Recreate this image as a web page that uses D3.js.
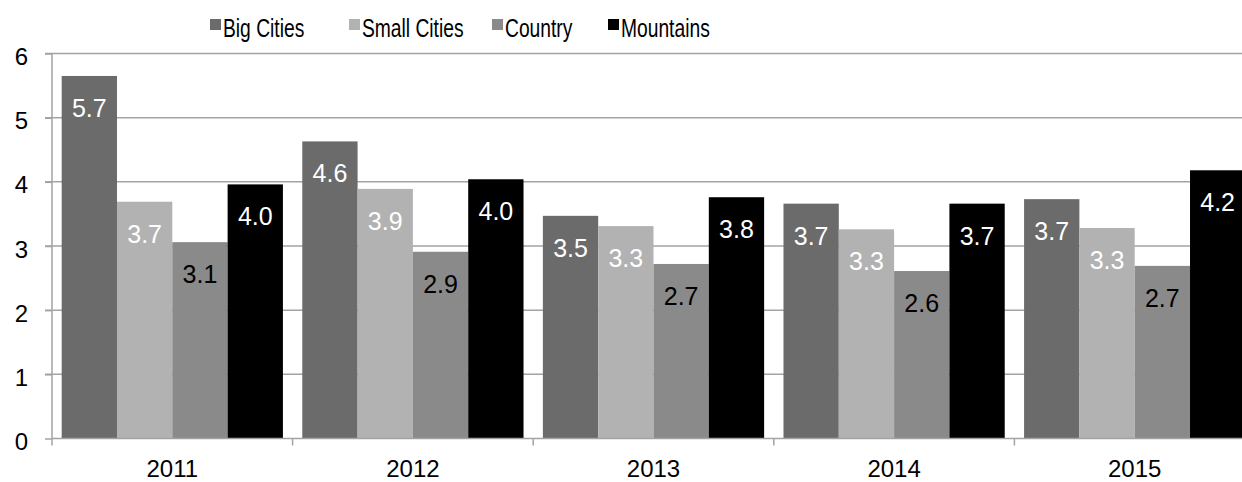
<!DOCTYPE html>
<html>
<head>
<meta charset="utf-8">
<script src="https://cdnjs.cloudflare.com/ajax/libs/d3/7.8.5/d3.min.js"></script>
<style>
  html, body { margin: 0; padding: 0; background: #fff; }
  svg { display: block; }
  text { font-family: "Liberation Sans", Arial, sans-serif; }
</style>
</head>
<body>
<svg id="chart" width="1242" height="482"></svg>
<script>
// Yearly values per region
const years = ["2011", "2012", "2013", "2014", "2015"];
const seriesNames = ["Big Cities", "Small Cities", "Country", "Mountains"];
const bigCities   = [5.65, 4.63, 3.47, 3.66, 3.73];
const smallCities = [3.69, 3.89, 3.31, 3.26, 3.28];
const country     = [3.06, 2.91, 2.72, 2.61, 2.69];
const mountains   = [3.96, 4.04, 3.76, 3.66, 4.18];
const yTicks = [0, 1, 2, 3, 4, 5, 6];

const seriesValues = [bigCities, smallCities, country, mountains];
const fills = ["#6b6b6b", "#b2b2b2", "#8a8a8a", "#000000"];
const labelColors = ["#ffffff", "#ffffff", "#000000", "#ffffff"];

const svg = d3.select("#chart");
const plotLeft = 52, plotTop = 53.5, plotBottom = 438.5;
const step = 240.6;
const plotRight = plotLeft + step * years.length;

const x = d3.scaleBand().domain(years).range([plotLeft, plotRight]).paddingInner(0).paddingOuter(0);
const xi = d3.scaleBand().domain(seriesNames).range([0, x.bandwidth()]).paddingInner(0).paddingOuter(0.175);
const y = d3.scaleLinear().domain([0, 6]).range([plotBottom, plotTop]);

const gridColor = "#a3a3a3";

// horizontal gridlines with short ticks on the left
svg.append("g").selectAll("line").data(yTicks.filter(t => t > 0)).join("line")
  .attr("x1", plotLeft - 7).attr("x2", plotRight)
  .attr("y1", d => y(d)).attr("y2", d => y(d))
  .attr("stroke", gridColor).attr("stroke-width", 1.5);

// bars
const rows = years.map((yr, i) => ({ year: yr, vals: seriesValues.map((s, k) => ({ k, name: seriesNames[k], v: s[i] })) }));
const groups = svg.append("g").selectAll("g").data(rows).join("g")
  .attr("transform", d => `translate(${x(d.year)},0)`);

groups.selectAll("rect").data(d => d.vals).join("rect")
  .attr("x", d => xi(d.name))
  .attr("width", xi.bandwidth())
  .attr("y", d => y(d.v))
  .attr("height", d => y(0) - y(d.v))
  .attr("fill", d => fills[d.k]);

const fmt = d3.format(".1f");
groups.selectAll("text").data(d => d.vals).join("text")
  .attr("x", d => xi(d.name) + xi.bandwidth() / 2)
  .attr("y", d => y(d.v) + 41)
  .attr("text-anchor", "middle")
  .attr("font-size", 25)
  .attr("fill", d => labelColors[d.k])
  .text(d => fmt(d.v));

// axes
const yAxis = svg.append("g").attr("transform", `translate(${plotLeft},0)`)
  .call(d3.axisLeft(y).tickValues(yTicks).tickSize(7).tickPadding(17).tickFormat(d3.format("d")));
yAxis.select(".domain").attr("stroke", gridColor).attr("stroke-width", 1.5).attr("d", `M0,${plotTop}V${plotBottom + 7}`);
yAxis.selectAll(".tick line").attr("stroke", gridColor).attr("stroke-width", 1.5);
yAxis.selectAll(".tick text").attr("font-size", 24).attr("fill", "#000")
  .attr("font-family", "'Liberation Sans', Arial, sans-serif").attr("dy", "0.46em");

const xAxis = svg.append("g").attr("transform", `translate(0,${plotBottom})`)
  .call(d3.axisBottom(x).tickSize(0).tickPadding(0));
xAxis.select(".domain").attr("stroke", gridColor).attr("stroke-width", 1.5).attr("d", `M${plotLeft},0H${plotRight}`);
xAxis.selectAll(".tick text").attr("font-size", 24).attr("fill", "#000")
  .attr("font-family", "'Liberation Sans', Arial, sans-serif").attr("dy", 0).attr("y", 38.5);

// x tick marks at category boundaries
svg.append("g").selectAll("line").data(d3.range(1, years.length + 1)).join("line")
  .attr("x1", d => plotLeft + step * d).attr("x2", d => plotLeft + step * d)
  .attr("y1", plotBottom).attr("y2", plotBottom + 7)
  .attr("stroke", gridColor).attr("stroke-width", 1.5);

// legend (condensed type)
const legendX = [210, 349, 492, 608];
const legend = svg.append("g").selectAll("g").data(seriesNames).join("g")
  .attr("transform", (d, i) => `translate(${legendX[i]},0)`);
legend.append("rect").attr("x", 0).attr("y", 19).attr("width", 11).attr("height", 11)
  .attr("fill", (d, i) => fills[i]);
legend.append("text")
  .attr("transform", "translate(13,37) scale(0.77,1)")
  .attr("font-size", 25)
  .attr("fill", "#000")
  .text(d => d);
</script>
</body>
</html>
